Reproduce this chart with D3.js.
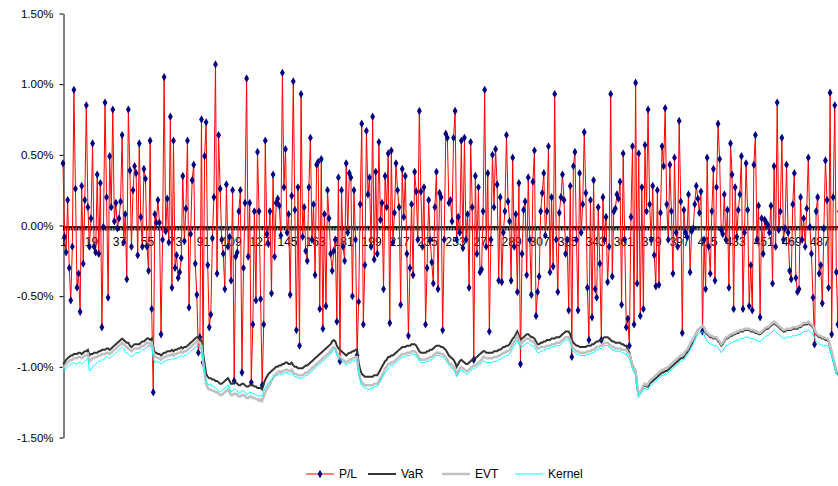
<!DOCTYPE html>
<html>
<head>
<meta charset="utf-8">
<script src="https://cdn.jsdelivr.net/npm/d3@7"></script>
<style>
  body { margin: 0; background: #fff; }
  svg { display: block; font-family: "Liberation Sans", Arial, sans-serif; }
</style>
</head>
<body>
<div id="chart"></div>
<script>
// daily P/L and risk estimates, in basis points of a percent (44 = 0.44%)
const pl = [
  44,-8,-19,18,-30,-53,-15,96,26,-44, -34,-61,28,-27,18,85,13,-15,5,58,
  -15,-19,36,-20,30,-72,-1,87,20,-51, 49,13,82,3,16,-2,5,17,64,-12,
  8,-38,82,39,-15,25,42,37,-21,58, 6,-15,40,33,-15,-32,60,-59,-118,8,
  2,18,2,-77,-10,105,-4,19,-12,77, -44,60,-30,-21,-37,-33,-23,35,-11,12,
  60,-58,-6,32,43,-27,-49,-90,-79,75, -97,49,73,-28,-72,-63,-9,20,114,-34,
  64,26,-10,-20,-45,29,-15,-8,-39,25, -110,-22,-19,10,25,-104,-30,16,104,-22,
  16,-111,-70,10,-53,52,10,-52,-113,-70, 60,-6,-13,10,-48,36,-22,16,19,14,
  -7,108,27,54,-5,8,-49,21,102,11, -74,27,-85,93,-8,13,-18,-25,27,62,
  -10,15,-35,43,45,-59,47,-73,8,-57, 25,5,-20,-32,-18,-10,-68,34,-96,25,
  -15,-25,44,-5,37,34,-50,25,-10,-92, -54,15,72,-70,-28,67,22,34,-15,77,
  -24,38,-20,59,4,16,-45,35,13,51, -69,53,-12,9,44,25,13,-56,40,6,
  35,-20,-78,-30,15,-35,38,24,-10,81, 24,-15,27,-70,-30,18,-10,-26,-41,13,
  38,-45,23,20,-74,-10,65,62,16,18, 3,62,81,-10,6,-5,60,-16,62,-10,
  8,-44,59,13,-95,35,-20,27,-33,-31, 10,96,-15,37,-75,-10,50,13,54,29,
  -39,20,-40,-5,10,64,17,3,-39,48, -15,8,-47,30,-98,-20,11,17,-35,34,
  -10,-49,31,53,-64,-47,-36,10,23,37, -7,10,56,-33,20,-29,93,-10,-47,9,
  20,36,18,-20,-10,-60,28,-93,42,52, -10,-60,37,-5,15,66,23,-44,-81,18,
  -65,32,-45,-51,13,-27,-81,20,-10,6, -40,-15,93,-36,10,12,22,19,31,-56,
  51,-10,-72,-66,-85,6,56,-70,101,-41, 51,-64,27,-59,57,10,82,15,-10,28,
  -21,-43,25,-42,9,56,42,83,15,-10, 43,10,-34,48,-5,-15,74,17,-76,11,
  -5,-8,22,-33,-4,-2,15,28,19,9, 24,-75,-10,-45,48,-15,-34,10,40,-39,
  27,72,47,-3,-6,22,-10,11,-44,58, 36,-59,27,-8,11,22,49,-59,-5,44,
  11,-57,-28,-60,43,64,-10,14,-65,5, -20,4,2,0,-5,14,-41,42,-15,87,
  -3,10,62,-10,-2,43,-5,-32,-38,15, 37,-37,-47,-45,20,-10,5,-15,12,48,
  -1,-20,-51,-84,10,20,-34,-28,-55,-2, 46,18,-44,94,-77,20,85,-33,-70,10
];

const varHs = [
  -98,-97,-95,-94,-93,-92,-92,-91,-91,-91, -90,-90,-91,-90,-89,-89,-88,-92,-91,-91,
  -90,-90,-90,-89,-89,-88,-88,-88,-87,-87, -88,-87,-86,-85,-84,-83,-82,-81,-80,-81,
  -82,-83,-83,-85,-86,-85,-84,-84,-84,-84, -83,-82,-82,-81,-80,-80,-81,-80,-86,-90,
  -90,-91,-91,-92,-91,-90,-90,-89,-89,-89, -88,-89,-88,-88,-87,-87,-86,-87,-86,-86,
  -85,-84,-83,-82,-81,-80,-79,-79,-80,-82, -90,-98,-105,-107,-108,-108,-109,-109,-110,-110,
  -111,-112,-112,-111,-110,-109,-108,-110,-112,-112, -111,-111,-112,-113,-113,-112,-112,-113,-114,-114,
  -113,-113,-113,-114,-114,-115,-115,-115,-116,-112, -109,-107,-105,-104,-103,-102,-101,-100,-100,-99,
  -99,-98,-98,-97,-97,-98,-98,-97,-99,-100, -100,-101,-101,-101,-101,-100,-99,-99,-98,-97,
  -96,-95,-94,-93,-92,-91,-90,-89,-88,-87, -86,-85,-84,-82,-81,-82,-85,-87,-88,-89,
  -90,-91,-92,-91,-90,-90,-89,-89,-88,-88, -97,-102,-105,-106,-107,-107,-107,-107,-107,-107,
  -106,-106,-106,-104,-102,-100,-98,-96,-95,-93, -93,-92,-92,-91,-90,-89,-88,-87,-86,-86,
  -86,-85,-85,-85,-84,-84,-84,-85,-87,-89, -90,-90,-90,-90,-89,-89,-88,-88,-87,-86,
  -85,-85,-85,-86,-86,-87,-88,-90,-92,-93, -94,-95,-97,-100,-98,-96,-95,-96,-97,-98,
  -98,-97,-96,-95,-94,-94,-93,-92,-91,-90, -89,-89,-90,-90,-90,-90,-90,-89,-89,-89,
  -88,-88,-87,-86,-86,-85,-85,-84,-82,-80, -79,-77,-75,-78,-81,-80,-79,-78,-77,-77,
  -78,-79,-79,-80,-82,-84,-84,-83,-83,-82, -82,-81,-81,-81,-80,-80,-80,-79,-79,-79,
  -78,-77,-76,-75,-75,-75,-77,-81,-83,-84, -85,-85,-86,-86,-86,-86,-86,-85,-85,-85,
  -84,-84,-83,-82,-82,-81,-81,-80,-79,-79, -79,-80,-81,-82,-82,-83,-83,-83,-83,-84,
  -84,-85,-85,-88,-90,-95,-99,-101,-103,-114, -119,-118,-116,-114,-113,-114,-114,-112,-111,-110,
  -109,-108,-107,-106,-105,-104,-104,-103,-103,-102, -101,-100,-99,-98,-97,-96,-95,-94,-94,-93,
  -91,-90,-88,-86,-84,-81,-79,-76,-74,-73, -72,-71,-73,-76,-77,-78,-79,-79,-80,-80,
  -80,-82,-83,-85,-84,-82,-80,-80,-79,-78, -78,-77,-77,-76,-76,-75,-75,-75,-74,-74,
  -74,-74,-75,-75,-75,-76,-76,-77,-77,-76, -75,-74,-73,-73,-72,-71,-70,-69,-70,-71,
  -72,-73,-74,-75,-75,-74,-74,-74,-74,-73, -73,-73,-73,-72,-72,-71,-70,-70,-70,-69,
  -70,-71,-72,-74,-77,-78,-79,-79,-80,-80, -81,-81,-82,-86,-90,-95,-99,-104,-105,-105
];

const evt = [
  -101,-100,-98,-97,-96,-95,-95,-94,-94,-94, -93,-93,-94,-93,-92,-92,-91,-96,-95,-94,
  -94,-93,-93,-92,-92,-91,-91,-91,-90,-90, -91,-90,-89,-88,-87,-86,-85,-84,-83,-84,
  -85,-86,-87,-88,-89,-88,-87,-87,-87,-87, -86,-85,-85,-84,-83,-83,-84,-83,-89,-93,
  -93,-94,-94,-95,-94,-93,-93,-92,-92,-92, -91,-92,-91,-91,-90,-90,-89,-90,-89,-89,
  -88,-87,-86,-85,-84,-83,-82,-82,-83,-85, -96,-105,-112,-115,-116,-116,-117,-117,-118,-118,
  -119,-120,-120,-119,-118,-117,-116,-118,-120,-120, -119,-119,-120,-121,-121,-120,-120,-121,-122,-122,
  -121,-121,-122,-122,-123,-123,-124,-123,-124,-121, -118,-116,-114,-112,-110,-108,-106,-105,-104,-103,
  -104,-103,-103,-102,-102,-103,-103,-102,-104,-105, -105,-106,-106,-106,-106,-105,-104,-104,-103,-102,
  -101,-100,-99,-98,-97,-96,-95,-94,-93,-92, -91,-90,-89,-87,-86,-87,-90,-92,-93,-94,
  -95,-96,-97,-96,-95,-95,-94,-94,-93,-93, -103,-108,-111,-112,-113,-113,-113,-113,-113,-113,
  -112,-112,-112,-110,-108,-106,-104,-101,-100,-98, -98,-97,-97,-96,-95,-94,-93,-92,-91,-91,
  -91,-90,-90,-90,-89,-89,-89,-90,-92,-94, -95,-95,-95,-95,-94,-94,-93,-93,-92,-91,
  -90,-90,-90,-91,-91,-92,-93,-95,-97,-98, -99,-100,-102,-105,-103,-101,-100,-101,-102,-103,
  -103,-102,-101,-100,-99,-99,-98,-97,-96,-95, -93,-93,-94,-94,-94,-94,-94,-93,-93,-93,
  -92,-92,-91,-90,-90,-89,-89,-88,-86,-84, -82,-80,-78,-81,-84,-83,-82,-81,-80,-80,
  -81,-82,-82,-83,-85,-87,-87,-86,-86,-86, -86,-85,-85,-85,-84,-84,-84,-83,-83,-83,
  -82,-81,-80,-79,-79,-79,-81,-85,-87,-88, -89,-89,-90,-90,-90,-90,-90,-89,-89,-89,
  -88,-88,-87,-86,-86,-85,-85,-84,-83,-83, -83,-84,-85,-86,-86,-87,-87,-87,-87,-88,
  -88,-88,-88,-90,-91,-95,-99,-101,-103,-113, -120,-118,-116,-113,-112,-113,-112,-110,-109,-108,
  -107,-106,-105,-104,-103,-102,-102,-101,-101,-100, -99,-98,-97,-96,-95,-94,-93,-92,-92,-91,
  -89,-88,-86,-84,-82,-80,-78,-76,-74,-73, -72,-71,-72,-75,-76,-77,-78,-78,-79,-79,
  -79,-81,-82,-84,-83,-81,-79,-79,-78,-77, -77,-76,-76,-75,-75,-74,-74,-74,-73,-73,
  -73,-73,-74,-74,-74,-75,-75,-76,-76,-75, -74,-73,-72,-72,-71,-70,-69,-68,-69,-70,
  -71,-72,-73,-74,-74,-73,-73,-73,-73,-72, -72,-72,-72,-71,-71,-70,-69,-69,-69,-68,
  -69,-70,-71,-73,-76,-77,-78,-78,-79,-79, -80,-80,-81,-85,-89,-94,-98,-103,-104,-104
];

const kernel = [
  -104,-103,-101,-100,-99,-98,-98,-97,-98,-98, -97,-97,-98,-97,-96,-95,-94,-103,-102,-100,
  -99,-98,-97,-96,-96,-95,-95,-94,-93,-93, -94,-93,-92,-91,-90,-89,-88,-87,-86,-87,
  -90,-90,-91,-92,-93,-92,-91,-90,-90,-90, -89,-88,-88,-87,-86,-85,-86,-85,-94,-97,
  -96,-97,-97,-98,-97,-96,-96,-95,-95,-95, -94,-95,-94,-94,-93,-93,-92,-93,-92,-92,
  -91,-90,-89,-88,-87,-86,-85,-85,-86,-88, -95,-103,-110,-112,-113,-112,-114,-114,-115,-116,
  -117,-118,-117,-116,-115,-114,-113,-115,-118,-117, -116,-116,-117,-119,-118,-117,-117,-118,-120,-119,
  -118,-118,-119,-119,-120,-120,-121,-120,-121,-117, -115,-113,-111,-110,-109,-108,-107,-106,-106,-105,
  -106,-105,-105,-104,-104,-105,-105,-104,-106,-107, -107,-108,-108,-108,-108,-107,-106,-106,-105,-104,
  -103,-102,-101,-100,-99,-98,-97,-96,-95,-94, -93,-92,-91,-89,-87,-88,-92,-94,-95,-96,
  -97,-98,-99,-98,-97,-97,-96,-96,-95,-95, -105,-110,-113,-114,-115,-115,-116,-116,-115,-115,
  -114,-114,-114,-112,-110,-108,-106,-104,-103,-101, -100,-99,-99,-98,-97,-96,-95,-94,-93,-93,
  -93,-92,-92,-92,-91,-91,-91,-92,-94,-96, -97,-97,-97,-97,-96,-96,-95,-95,-94,-93,
  -92,-92,-92,-93,-93,-94,-95,-97,-99,-100, -101,-102,-104,-107,-105,-103,-102,-103,-104,-105,
  -105,-104,-103,-102,-101,-101,-100,-99,-98,-97, -96,-96,-97,-97,-97,-97,-97,-96,-96,-96,
  -95,-95,-94,-93,-93,-92,-92,-91,-89,-87, -85,-83,-81,-84,-87,-86,-85,-84,-83,-83,
  -84,-85,-85,-86,-88,-90,-90,-89,-89,-88, -88,-87,-87,-87,-86,-86,-86,-85,-85,-85,
  -84,-83,-82,-81,-81,-81,-83,-87,-89,-90, -91,-91,-92,-92,-92,-92,-92,-91,-91,-91,
  -90,-90,-89,-88,-88,-87,-87,-86,-85,-85, -85,-86,-87,-88,-88,-89,-89,-89,-89,-90,
  -90,-91,-91,-93,-94,-98,-102,-104,-106,-116, -121,-120,-118,-116,-115,-116,-116,-114,-113,-112,
  -111,-110,-109,-108,-107,-106,-106,-105,-105,-104, -103,-102,-101,-100,-99,-98,-97,-96,-96,-95,
  -93,-92,-90,-88,-86,-84,-82,-79,-77,-76, -76,-75,-77,-80,-82,-83,-84,-84,-85,-85,
  -85,-87,-88,-90,-89,-87,-85,-85,-84,-83, -83,-82,-82,-81,-81,-80,-80,-80,-79,-79,
  -79,-79,-80,-80,-80,-81,-81,-82,-82,-81, -80,-79,-78,-78,-77,-76,-75,-74,-75,-76,
  -77,-78,-79,-80,-80,-79,-79,-79,-79,-78, -78,-78,-78,-77,-77,-76,-75,-75,-75,-74,
  -75,-76,-77,-79,-82,-83,-84,-84,-85,-85, -85,-85,-86,-89,-93,-97,-101,-105,-106,-106
];

const yTicks = [1.5, 1.0, 0.5, 0, -0.5, -1.0, -1.5];
const labelEvery = 18;

const seriesNames = ["P/L", "VaR", "EVT", "Kernel"];
const colors = { pl: "#ff0000", marker: "#000080", var: "#333333", evt: "#c0c0c0", kernel: "#00ffff" };

const width = 838, height = 486;
const margin = { top: 13.5, right: 0, bottom: 48.5, left: 63 };

const svg = d3.select("#chart").append("svg")
  .attr("width", width)
  .attr("height", height);

const days = d3.range(1, pl.length + 1);

const x = d3.scaleLinear()
  .domain([1, pl.length])
  .range([margin.left, 63 + (pl.length - 1) * 1.556]);

const y = d3.scaleLinear()
  .domain([-1.5, 1.5])
  .range([height - margin.bottom, margin.top]);

// y axis
const yAxis = svg.append("g")
  .attr("transform", `translate(${margin.left + 0.5},0)`)
  .call(d3.axisLeft(y).tickValues(yTicks).tickSize(4).tickSizeOuter(0)
    .tickFormat(d => d.toFixed(2) + "%"));
yAxis.select(".domain").attr("stroke", "#000");
yAxis.selectAll(".tick line").attr("stroke", "#000");
yAxis.selectAll("text")
  .attr("x", -10)
  .style("font-size", "11.5px")
  .style("fill", "#000");

// x axis crossing at zero, tick at every category
const xAxis = svg.append("g")
  .attr("transform", `translate(0,${Math.round(y(0)) + 0.5})`)
  .call(d3.axisBottom(x).tickValues(days).tickSize(4).tickSizeOuter(0)
    .tickFormat(d => (d - 1) % labelEvery === 0 ? d : ""));
xAxis.select(".domain").attr("stroke", "#000").attr("stroke-width", 1.5);
xAxis.selectAll(".tick line").attr("stroke", "#000").attr("stroke-width", 1);
xAxis.selectAll("text")
  .attr("y", 11)
  .style("font-size", "12px")
  .style("fill", "#000");

const toPct = v => v / 100;

const line = arr => d3.line()
  .x((d, i) => x(i + 1))
  .y(d => y(toPct(d)))(arr);

// P/L
svg.append("path")
  .attr("d", line(pl))
  .attr("fill", "none")
  .attr("stroke", colors.pl)
  .attr("stroke-width", 1);

svg.append("g").selectAll("path")
  .data(pl)
  .join("path")
  .attr("transform", (d, i) => `translate(${x(i + 1)},${y(toPct(d))})`)
  .attr("d", d3.symbol(d3.symbolDiamond, 20))
  .attr("fill", colors.marker);

// risk lines
svg.append("path")
  .attr("d", line(varHs))
  .attr("fill", "none")
  .attr("stroke", colors.var)
  .attr("stroke-width", 2);

svg.append("path")
  .attr("d", line(evt))
  .attr("fill", "none")
  .attr("stroke", colors.evt)
  .attr("stroke-width", 2.5);

svg.append("path")
  .attr("d", line(kernel))
  .attr("fill", "none")
  .attr("stroke", colors.kernel)
  .attr("stroke-width", 1);

// legend
const legendItems = [
  { name: seriesNames[0], color: colors.pl, x: 306, w: 1, marker: true },
  { name: seriesNames[1], color: colors.var, x: 368, w: 2 },
  { name: seriesNames[2], color: colors.evt, x: 442, w: 2.5 },
  { name: seriesNames[3], color: colors.kernel, x: 515, w: 1 }
];
const legend = svg.append("g").attr("transform", "translate(0,474)");
const li = legend.selectAll("g").data(legendItems).join("g")
  .attr("transform", d => `translate(${d.x},0)`);
li.append("line")
  .attr("x1", 0).attr("x2", 28)
  .attr("stroke", d => d.color)
  .attr("stroke-width", d => d.w);
li.filter(d => d.marker).append("path")
  .attr("transform", "translate(14,0)")
  .attr("d", d3.symbol(d3.symbolDiamond, 20))
  .attr("fill", colors.marker);
li.append("text")
  .attr("x", 33)
  .attr("dy", "0.35em")
  .style("font-size", "12px")
  .text(d => d.name);
</script>
</body>
</html>
